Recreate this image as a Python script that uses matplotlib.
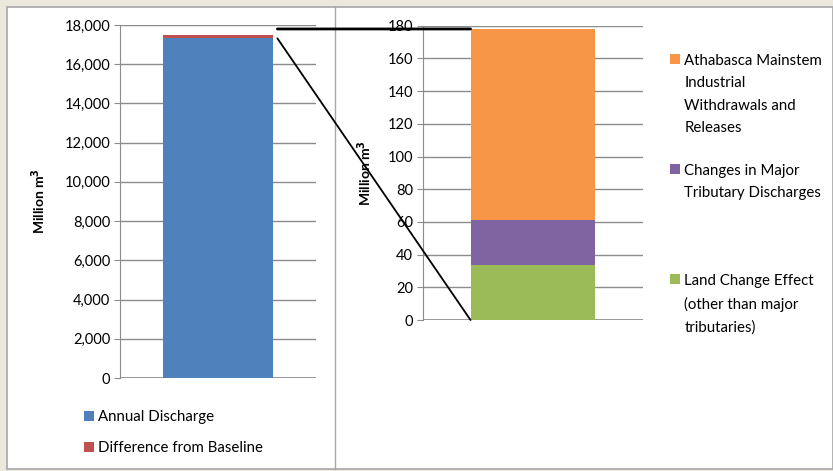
import matplotlib
matplotlib.use("Agg")
import matplotlib.pyplot as plt
from matplotlib.patches import Rectangle, ConnectionPatch
from matplotlib.lines import Line2D
from matplotlib.ticker import FuncFormatter
import matplotlib.transforms as mtransforms

# ---- data ----
left_categories = ["Annual Discharge", "Difference from Baseline"]
left_values = [17320, 178]
left_colors = ["#4f81bd", "#c0504d"]
left_ticks = [0, 2000, 4000, 6000, 8000, 10000, 12000, 14000, 16000, 18000]

right_categories = ["Land Change Effect\n(other than major\ntributaries)",
                    "Changes in Major\nTributary Discharges",
                    "Athabasca Mainstem\nIndustrial\nWithdrawals and\nReleases"]
right_values = [33.6, 27.4, 117]
right_colors = ["#9bbb59", "#8064a2", "#f79646"]
right_ticks = [0, 20, 40, 60, 80, 100, 120, 140, 160, 180]

ylabel = "Million m$^\\mathbf{3}$"

plt.rcParams['font.family'] = ['Lato', 'DejaVu Sans']
W, H = 833, 471
fig = plt.figure(figsize=(W / 100, H / 100), dpi=100)
fig.patch.set_facecolor("#ebe8dc")

def fx(px):
    return px / W

def fy(py):
    return 1 - py / H

# white panel
fig.patches.append(Rectangle((fx(7), fy(469)), fx(833 - 7), (469 - 7) / H,
                             transform=fig.transFigure, facecolor="white",
                             edgecolor="#a6a6a6", linewidth=1.2, zorder=-2))
fig.lines.append(Line2D([fx(335), fx(335)], [fy(469), fy(7)], transform=fig.transFigure,
                        color="#a6a6a6", linewidth=1.0, zorder=-1))

grid_c = "#8c8c8c"
tick_fs = 10.5
leg_fs = 10.8

def style(ax):
    ax.set_facecolor("none")
    for s in ["top", "right", "bottom"]:
        ax.spines[s].set_visible(False)
    ax.spines["left"].set_color(grid_c)
    ax.yaxis.grid(True, color=grid_c, linewidth=1.0)
    ax.set_axisbelow(True)
    ax.set_xticks([])
    ax.tick_params(axis="y", length=4, color=grid_c, labelsize=tick_fs, pad=3)
    ax.set_xlim(-0.5, 0.5)
    ax.axhline(0, color=grid_c, linewidth=1.2, zorder=1)

# left axes
ax1 = fig.add_axes([fx(120), fy(378), fx(316 - 120), (378 - 25) / H])
style(ax1)
bw1 = 0.566
bottom = 0
for v, c, lab in zip(left_values, left_colors, left_categories):
    ax1.bar(0, v, width=bw1, bottom=bottom, color=c, label=lab, zorder=2)
    bottom += v
ax1.set_ylim(0, left_ticks[-1])
ax1.set_yticks(left_ticks)
ax1.yaxis.set_major_formatter(FuncFormatter(lambda v, p: f"{int(v):,}"))
ax1.set_ylabel(ylabel, fontsize=10, fontweight="bold", labelpad=12)

# right axes
ax2 = fig.add_axes([fx(423), fy(320), fx(643 - 423), (320 - 25.7) / H])
style(ax2)
bw2 = 0.568
bottom = 0
for v, c, lab in zip(right_values, right_colors, right_categories):
    ax2.bar(0, v, width=bw2, bottom=bottom, color=c, label=lab, zorder=2)
    bottom += v
ax2.set_ylim(0, right_ticks[-1])
ax2.set_yticks(right_ticks)
ax2.set_ylabel(ylabel, fontsize=10, fontweight="bold", labelpad=10)

# legends
h1, l1 = ax1.get_legend_handles_labels()
fig.legend(h1, l1, loc="upper left", bbox_to_anchor=(fx(78), fy(404)),
           frameon=False, fontsize=leg_fs, handlelength=0.65, handleheight=0.65,
           handletextpad=0.3, labelspacing=1.15, borderaxespad=0)
h2, l2 = ax2.get_legend_handles_labels()
ypos = [48, 158, 268]
for h, l, yy in zip(h2[::-1], l2[::-1], ypos):
    lg = fig.legend([h], [l], loc="upper left", bbox_to_anchor=(fx(664), fy(yy)),
                    frameon=False, fontsize=leg_fs, handlelength=0.65, handleheight=0.65,
                    handletextpad=0.3, borderaxespad=0)
    for t in lg.get_texts():
        t.set_linespacing(1.76)
    for col in lg._legend_handle_box.get_children():
        for item in col.get_children():
            item.align = "top"

# connector lines
gap = 0.02
total_right = sum(right_values)
blend = mtransforms.blended_transform_factory(ax1.transData, ax2.transData)
con1 = ConnectionPatch(xyA=(bw1 / 2 + gap, total_right), coordsA=blend,
                       xyB=(-bw2 / 2, total_right), coordsB=ax2.transData,
                       color="black", linewidth=2.0, zorder=5)
fig.add_artist(con1)
con2 = ConnectionPatch(xyA=(bw1 / 2 + gap, left_values[0]), coordsA=ax1.transData,
                       xyB=(-bw2 / 2, 0), coordsB=ax2.transData,
                       color="black", linewidth=1.3, zorder=5)
fig.add_artist(con2)

fig.savefig("out.png", dpi=100, facecolor=fig.get_facecolor())
